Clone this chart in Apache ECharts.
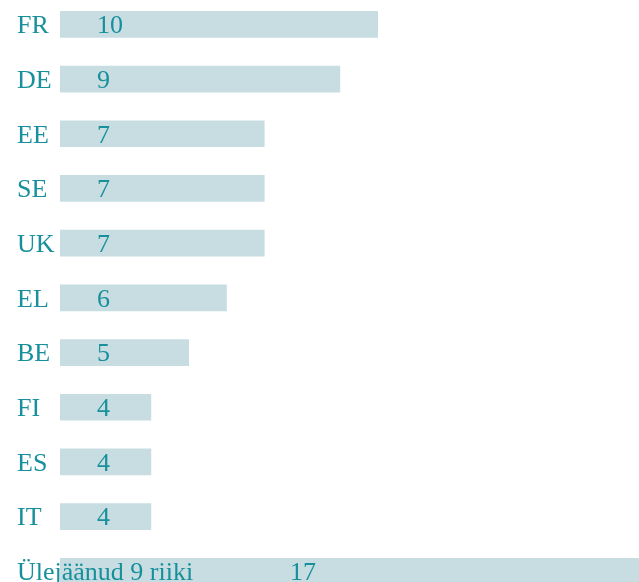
<!DOCTYPE html>
<html>
<head>
<meta charset="utf-8">
<style>html,body{margin:0;padding:0;background:#fff;}#c{width:639px;height:582px;}</style>
<script src="https://cdn.jsdelivr.net/npm/echarts@6/dist/echarts.min.js"></script>
</head>
<body>
<div id="c"></div>
<script>
const categories = ['FR', 'DE', 'EE', 'SE', 'UK', 'EL', 'BE', 'FI', 'ES', 'IT', 'Ülejäänud 9 riiki'];
const values = [10, 9, 7, 7, 7, 6, 5, 4, 4, 4, 17];

const TEXT = '#17909c';
const BAR = '#c8dde2';
const FONT = '"Liberation Serif", "DejaVu Serif", serif';
const BAR_START = 60;

const chart = echarts.init(document.getElementById('c'));
chart.setOption({
  animation: false,
  grid: { left: 0, width: 639, top: -3, height: 601.7, containLabel: false, outerBoundsMode: 'none' },
  xAxis: { type: 'value', min: 0, max: 639 / 37.8, show: false },
  yAxis: {
    type: 'category', inverse: true, data: categories,
    axisLine: { show: false }, axisTick: { show: false }, splitLine: { show: false },
    axisLabel: { show: false }
  },
  series: [{
    type: 'custom',
    clip: false,
    data: values.map((v, i) => [v, i]),
    encode: { x: 0, y: 1 },
    renderItem: function (params, api) {
      const v = api.value(0), idx = api.value(1);
      const end = api.coord([v, idx]);
      const h = api.size([0, 1])[1] * 0.488;
      const x0 = params.coordSys.x + BAR_START;
      const labelX = idx === categories.length - 1 ? 290 : 97;
      return {
        type: 'group',
        children: [
          { type: 'rect', shape: { x: x0, y: end[1] - h / 2, width: end[0] - x0, height: h }, style: { fill: BAR } },
          { type: 'text', style: { x: params.coordSys.x + 17, y: end[1] + 2, text: categories[idx], fill: TEXT, font: '26px ' + FONT, textAlign: 'left', textVerticalAlign: 'middle' } },
          { type: 'text', style: { x: params.coordSys.x + labelX, y: end[1] + 2, text: String(v), fill: TEXT, font: '26px ' + FONT, textAlign: 'left', textVerticalAlign: 'middle' } }
        ]
      };
    }
  }]
});
</script>
</body>
</html>
